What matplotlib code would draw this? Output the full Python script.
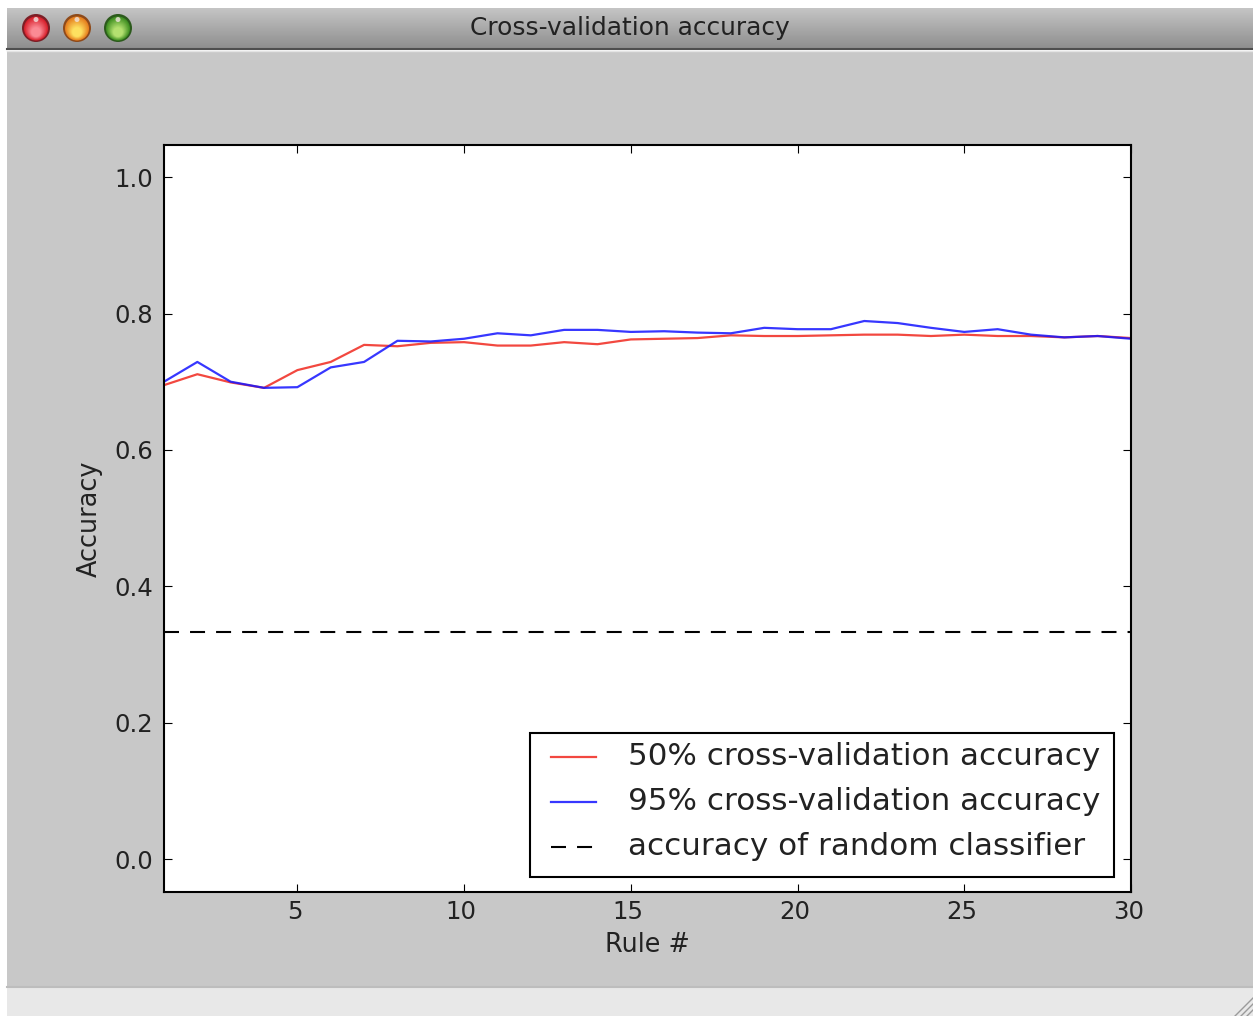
import numpy as np
import matplotlib
matplotlib.use('Agg')
import matplotlib.pyplot as plt
from matplotlib.colors import to_rgb
from matplotlib.legend_handler import HandlerLine2D
from matplotlib.lines import Line2D
from matplotlib.patches import Circle, Rectangle
from matplotlib.transforms import ScaledTranslation

# values
rules = list(range(1, 31))
acc_50 = [0.695, 0.711, 0.699, 0.691, 0.717, 0.729, 0.754, 0.752, 0.757, 0.758,
          0.753, 0.753, 0.758, 0.755, 0.762, 0.763, 0.764, 0.768, 0.767, 0.767,
          0.768, 0.769, 0.769, 0.767, 0.769, 0.767, 0.767, 0.765, 0.767, 0.764]
acc_95 = [0.700, 0.729, 0.700, 0.691, 0.692, 0.721, 0.729, 0.760, 0.759, 0.763,
          0.771, 0.768, 0.776, 0.776, 0.773, 0.774, 0.772, 0.771, 0.779, 0.777,
          0.777, 0.789, 0.786, 0.779, 0.773, 0.777, 0.769, 0.765, 0.767, 0.763]
random_acc = 1.0 / 3.0

W, H = 1253, 1016
fig = plt.figure(figsize=(W / 100.0, H / 100.0), dpi=100, facecolor='white')

# window around the plot, in pixels
bg = fig.add_axes([0, 0, 1, 1])
bg.set_xlim(0, W)
bg.set_ylim(H, 0)
bg.axis('off')
bg.add_patch(Rectangle((7, 51), W - 7, 936, fc='#c8c8c8', ec='none'))
bg.add_patch(Rectangle((7, 987), W - 7, 29, fc='#e8e8e8', ec='none'))
bg.plot([7, W], [987, 987], color='#bdbdbd', lw=1.5)
grad = np.linspace(0.77, 0.56, 64).reshape(-1, 1)
bg.imshow(grad, cmap='gray', vmin=0, vmax=1, aspect='auto', extent=(7, W, 48, 8), zorder=1)
bg.set_xlim(0, W)
bg.set_ylim(H, 0)
bg.plot([7, W], [49, 49], color='#4e4e4e', lw=1.5, zorder=2)
bg.plot([7, W], [51, 51], color='#e4e4e4', lw=1.0, zorder=2)
bg.text(630, 28, 'Cross-validation accuracy', ha='center', va='center', fontsize=17.9, color='#222222')

# traffic lights: rim, then a fill going lighter to the bottom
for cx, edge, fill, low in [(36, '#7c1f26', '#d8202c', '#fb8a94'),
                            (77, '#8e4a1a', '#e67e1e', '#fde060'),
                            (118, '#2c5a1c', '#3f8f22', '#b4e070')]:
    bg.add_patch(Circle((cx, 28), 14, fc=edge, ec='none', zorder=3))
    steps = 12
    for i in range(steps):
        f = i / (steps - 1.0)
        col = np.array(to_rgb(fill)) * (1 - f) + np.array(to_rgb(low)) * f
        bg.add_patch(Circle((cx, 28.5 + 3.5 * f), 12 * (1 - 0.6 * f), fc=col, ec='none', zorder=4 + i))
    bg.add_patch(Circle((cx, 19.5), 2.5, fc='#f0e4e0', ec='none', alpha=0.8, zorder=20))
for off in [6, 12, 18]:
    bg.plot([W - off, W], [H, H - off], color='#9a9a9a', lw=1.0, clip_on=True)

ax = fig.add_axes([164.0 / W, 1 - 892.0 / H, (1131 - 164.0) / W, (892 - 145.0) / H])
ax.plot(rules, acc_50, color='#f0281e', lw=1.6, alpha=0.85, label='50% cross-validation accuracy')
ax.plot(rules, acc_95, color='#1414ff', lw=1.6, alpha=0.85, label='95% cross-validation accuracy')
ax.axhline(random_acc, color='black', ls='--', lw=1.5, dashes=(7.2, 5.3), label='accuracy of random classifier')
ax.set_xlim(1, 30)
ax.set_ylim(-0.048, 1.047)
ax.set_xticks([5, 10, 15, 20, 25, 30])
ax.set_yticks([0.0, 0.2, 0.4, 0.6, 0.8, 1.0])
ax.tick_params(direction='in', top=True, right=True, length=6, width=0.8, labelsize=17.6,
               labelcolor='#222222')
ax.tick_params(axis='x', pad=5.7)
ax.tick_params(axis='y', pad=8)
# x tick labels sit a little left of their ticks
for lab in ax.get_xticklabels():
    lab.set_transform(lab.get_transform() + ScaledTranslation(-2.0 / 72, 0, fig.dpi_scale_trans))
for s in ax.spines.values():
    s.set_linewidth(1.5)
ax.set_xlabel('Rule #', fontsize=18.4, color='#222222', labelpad=5.8)
ax.set_ylabel('Accuracy', fontsize=18.4, color='#222222', labelpad=8)
leg = ax.legend(loc='lower right', bbox_to_anchor=(1 - 2.0 / 967, 0), fontsize=22.3, fancybox=False,
                framealpha=1, edgecolor='black', borderaxespad=0.5, labelspacing=0.51, handlelength=1.74,
                handletextpad=1.04, borderpad=0.41,
                handler_map={Line2D: HandlerLine2D(xpad=0.29)})
leg.get_frame().set_linewidth(1.5)
for t in leg.get_texts():
    t.set_color('#222222')
    t.set_y(3)

fig.savefig('out.png', dpi=100)
